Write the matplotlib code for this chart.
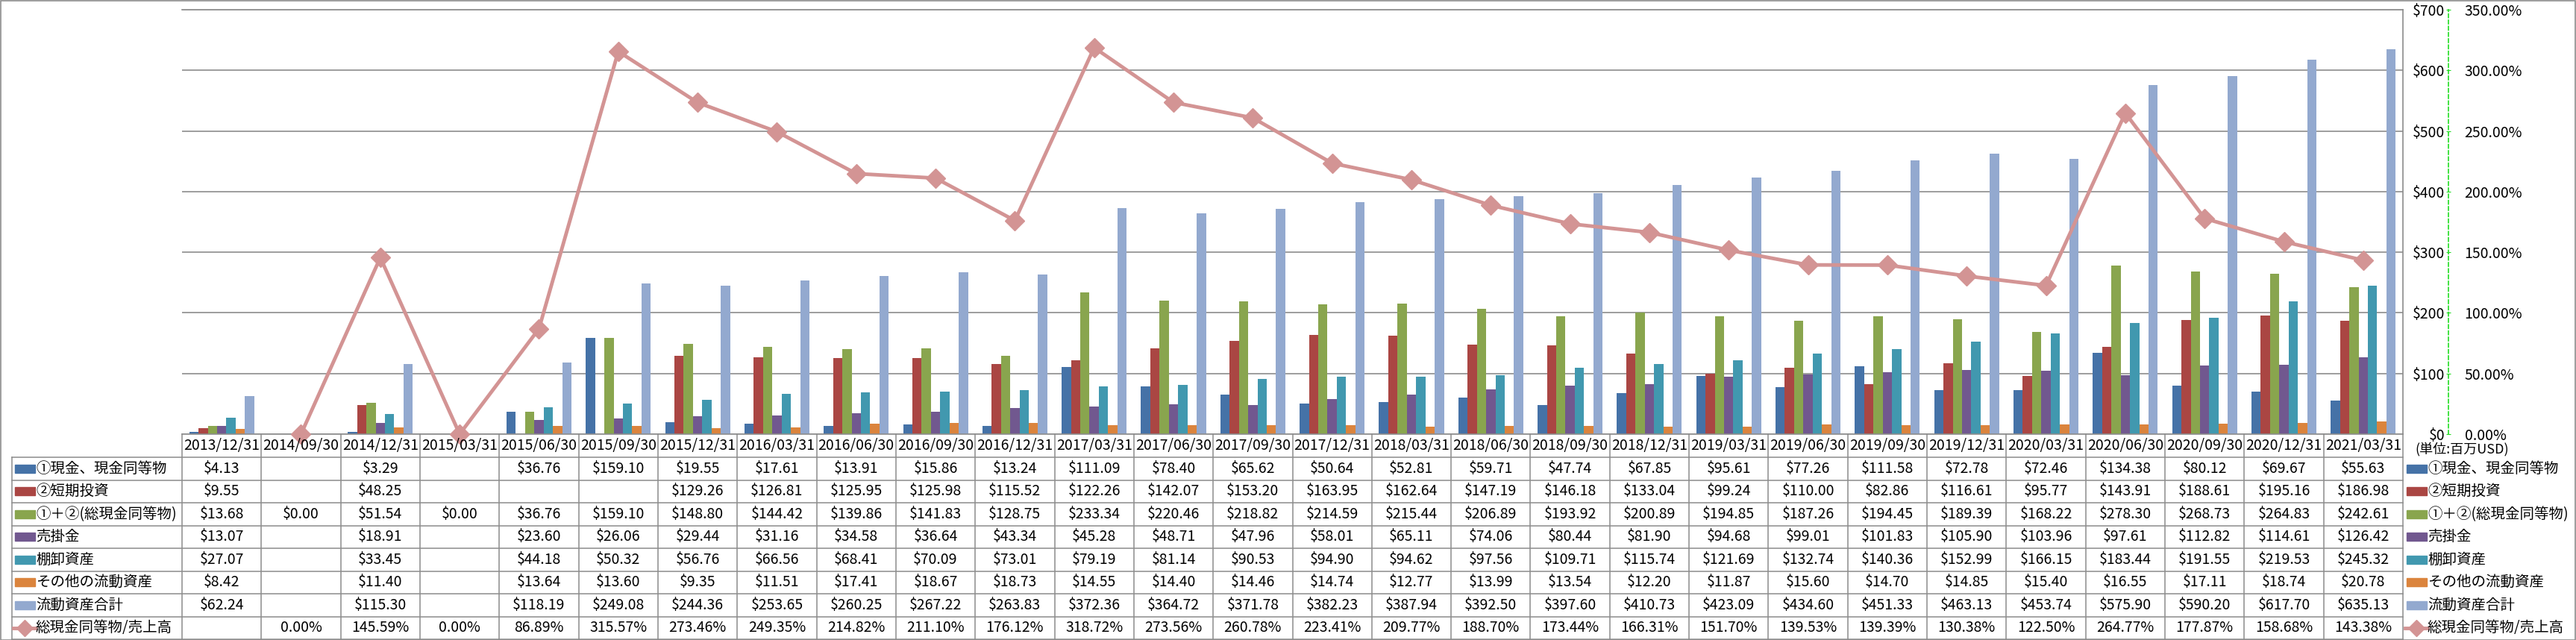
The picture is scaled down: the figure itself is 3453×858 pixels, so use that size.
import matplotlib
matplotlib.use('Agg')
import matplotlib.pyplot as plt
import matplotlib.transforms as mtransforms
from matplotlib.patches import Rectangle
from matplotlib.lines import Line2D
import numpy as np

plt.rcParams['font.family'] = ['Noto Sans CJK JP', 'DejaVu Sans']

dates = ['2013/12/31', '2014/09/30', '2014/12/31', '2015/03/31', '2015/06/30', '2015/09/30',
         '2015/12/31', '2016/03/31', '2016/06/30', '2016/09/30', '2016/12/31', '2017/03/31',
         '2017/06/30', '2017/09/30', '2017/12/31', '2018/03/31', '2018/06/30', '2018/09/30',
         '2018/12/31', '2019/03/31', '2019/06/30', '2019/09/30', '2019/12/31', '2020/03/31',
         '2020/06/30', '2020/09/30', '2020/12/31', '2021/03/31']

cash = [4.13, None, 3.29, None, 36.76, 159.10, 19.55, 17.61, 13.91, 15.86, 13.24, 111.09, 78.40, 65.62,
        50.64, 52.81, 59.71, 47.74, 67.85, 95.61, 77.26, 111.58, 72.78, 72.46, 134.38, 80.12, 69.67, 55.63]
short_inv = [9.55, None, 48.25, None, None, None, 129.26, 126.81, 125.95, 125.98, 115.52, 122.26, 142.07, 153.20,
             163.95, 162.64, 147.19, 146.18, 133.04, 99.24, 110.00, 82.86, 116.61, 95.77, 143.91, 188.61, 195.16, 186.98]
total_cash = [13.68, 0.00, 51.54, 0.00, 36.76, 159.10, 148.80, 144.42, 139.86, 141.83, 128.75, 233.34, 220.46, 218.82,
              214.59, 215.44, 206.89, 193.92, 200.89, 194.85, 187.26, 194.45, 189.39, 168.22, 278.30, 268.73, 264.83, 242.61]
receivables = [13.07, None, 18.91, None, 23.60, 26.06, 29.44, 31.16, 34.58, 36.64, 43.34, 45.28, 48.71, 47.96,
               58.01, 65.11, 74.06, 80.44, 81.90, 94.68, 99.01, 101.83, 105.90, 103.96, 97.61, 112.82, 114.61, 126.42]
inventory = [27.07, None, 33.45, None, 44.18, 50.32, 56.76, 66.56, 68.41, 70.09, 73.01, 79.19, 81.14, 90.53,
             94.90, 94.62, 97.56, 109.71, 115.74, 121.69, 132.74, 140.36, 152.99, 166.15, 183.44, 191.55, 219.53, 245.32]
other = [8.42, None, 11.40, None, 13.64, 13.60, 9.35, 11.51, 17.41, 18.67, 18.73, 14.55, 14.40, 14.46,
         14.74, 12.77, 13.99, 13.54, 12.20, 11.87, 15.60, 14.70, 14.85, 15.40, 16.55, 17.11, 18.74, 20.78]
current_total = [62.24, None, 115.30, None, 118.19, 249.08, 244.36, 253.65, 260.25, 267.22, 263.83, 372.36, 364.72, 371.78,
                 382.23, 387.94, 392.50, 397.60, 410.73, 423.09, 434.60, 451.33, 463.13, 453.74, 575.90, 590.20, 617.70, 635.13]
ratio = [None, 0.00, 145.59, 0.00, 86.89, 315.57, 273.46, 249.35, 214.82, 211.10, 176.12, 318.72, 273.56, 260.78,
         223.41, 209.77, 188.70, 173.44, 166.31, 151.70, 139.53, 139.39, 130.38, 122.50, 264.77, 177.87, 158.68, 143.38]

bar_names = ['①現金、現金同等物', '②短期投資', '①＋②(総現金同等物)', '売掛金', '棚卸資産', 'その他の流動資産', '流動資産合計']
bar_values = [cash, short_inv, total_cash, receivables, inventory, other, current_total]
bar_colors = ['#4572A7', '#AA4643', '#89A54E', '#71588F', '#4198AF', '#DB843D', '#93A9CF']
line_name = '総現金同等物/売上高'
line_color = '#D39494'

W, H = 3453, 858
L, R, T, B = 244, 3221, 13, 582
AX_X = 3282
ROW0, ROWH = 613, 30.5
GRAY = '#8C8C8C'
FS = 14


def fy(y):
    return 1 - y / H


def fx(x):
    return x / W


def nan(vals):
    return np.array([np.nan if v is None else v for v in vals], dtype=float)


fig = plt.figure(figsize=(W / 100, H / 100), dpi=100)
ax = fig.add_axes([fx(L), fy(B), (R - L) / W, (B - T) / H])
n = len(dates)
x = np.arange(n)
bw = 0.117
for i, (vals, col) in enumerate(zip(bar_values, bar_colors)):
    ax.bar(x + (i - 3) * bw, nan(vals), bw, color=col, zorder=2)

ax.set_xlim(-0.5, n - 0.5)
ax.set_ylim(0, 700)
ax.set_yticks(range(0, 701, 100))
ax.set_yticklabels(['$%d' % v for v in range(0, 701, 100)])
ax.set_xticks([])
ax.yaxis.grid(True, color=GRAY, lw=1.2)
ax.set_axisbelow(True)
pos = (AX_X - L) / (R - L)
ax.spines['left'].set_position(('axes', pos))
ax.spines['left'].set_color('#22DD22')
ax.spines['left'].set_linestyle((0, (3, 2)))
ax.spines['left'].set_linewidth(1.2)
for s in ['top', 'bottom', 'right']:
    ax.spines[s].set_color(GRAY)
    ax.spines[s].set_linewidth(1.2)
ax.tick_params(axis='y', length=2.5, pad=1, color='#22DD22', labelsize=14)

ax2 = ax.twinx()
ax2.set_ylim(0, 350)
ax2.set_yticks(range(0, 351, 50))
ax2.set_yticklabels(['%.2f%%' % v for v in range(0, 351, 50)])
for s in ax2.spines.values():
    s.set_visible(False)
ax2.spines['right'].set_position(('axes', pos))
ax2.tick_params(axis='y', length=2.5, pad=13, color='#22DD22', labelsize=14)
ax2.plot(x, nan(ratio), color=line_color, lw=3.5, marker='D', ms=13, mec=line_color, clip_on=False, zorder=5)

# table below the plot
blend = mtransforms.blended_transform_factory(ax.transData, fig.transFigure)
bottom = ROW0 + 8 * ROWH
for j in range(n + 1):
    fig.add_artist(Line2D([j - 0.5, j - 0.5], [fy(B), fy(bottom)], transform=blend, color=GRAY, lw=1.1))
fig.add_artist(Line2D([fx(16), fx(16)], [fy(ROW0), fy(bottom)], color=GRAY, lw=1.1))
for k in range(9):
    y = ROW0 + k * ROWH
    fig.add_artist(Line2D([fx(16), fx(R)], [fy(y), fy(y)], color=GRAY, lw=1.1))

for j, d in enumerate(dates):
    fig.text(j, fy((B + ROW0) / 2), d, transform=blend, ha='center', va='center', fontsize=FS)

rows = [(nm, vals, '$%.2f') for nm, vals in zip(bar_names, bar_values)] + [(line_name, ratio, '%.2f%%')]
for k, (nm, vals, f) in enumerate(rows):
    yc = fy(ROW0 + (k + 0.5) * ROWH)
    for j, v in enumerate(vals):
        if v is not None:
            fig.text(j, yc, f % v, transform=blend, ha='center', va='center', fontsize=FS)
    for x0, tx in [(20, 48), (3226, 3254)]:
        if k < 7:
            fig.add_artist(Rectangle((fx(x0), yc - 5.5 / H), 27 / W, 11 / H, color=bar_colors[k]))
        else:
            fig.add_artist(Line2D([fx(x0 - 2), fx(x0 + 13), fx(x0 + 28)], [yc, yc, yc], color=line_color, lw=3.5,
                                  marker='D', ms=11, mec=line_color, markevery=[1]))
        fig.text(fx(tx), yc, nm, ha='left', va='center', fontsize=FS)

fig.text(fx(3237), fy(602), '(単位:百万USD)', ha='left', va='center', fontsize=13)

fig.add_artist(Rectangle((0.5 / W, 0.5 / H), (W - 1.5) / W, (H - 1.5) / H, fill=False, ec=GRAY, lw=1.2))

fig.savefig('out.png', dpi=100)
